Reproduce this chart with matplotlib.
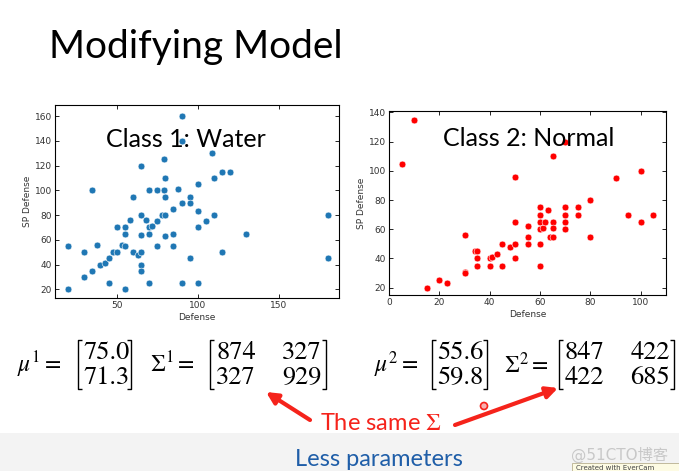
import matplotlib
matplotlib.use("Agg")
import matplotlib.pyplot as plt
from matplotlib.patches import Rectangle, Circle

plt.rcParams['mathtext.fontset'] = 'stix'

# Class 1: Water (Defense, SP Defense)
water_def = [20, 20, 30, 30, 35, 35, 38, 40, 43, 45, 45, 48, 50, 50, 53, 55, 55, 55, 55, 58,
             60, 60, 63, 65, 65, 65, 65, 65, 65, 68, 70, 70, 70, 70, 72, 75, 75, 75, 78, 79,
             79, 80, 80, 80, 80, 85, 85, 85, 88, 90, 90, 90, 90, 95, 95, 95, 100, 100, 100, 100,
             105, 109, 110, 110, 115, 115, 120, 130, 180, 180]
water_spdef = [55, 20, 50, 30, 100, 35, 56, 40, 41, 45, 25, 50, 50, 70, 56, 55, 65, 70, 20, 76,
               95, 50, 48, 50, 64, 80, 120, 40, 35, 76, 100, 70, 65, 25, 71, 75, 100, 55, 80, 125,
               100, 80, 110, 95, 63, 85, 65, 55, 101, 160, 140, 90, 25, 95, 90, 45, 105, 83, 70, 25,
               75, 130, 110, 80, 115, 50, 115, 65, 80, 45]

# Class 2: Normal
normal_def = [5, 10, 15, 20, 23, 30, 30, 30, 34, 35, 35, 35, 40, 41, 40, 43, 45, 45, 48, 50,
              50, 50, 50, 55, 55, 55, 60, 60, 60, 60, 60, 60, 61, 62, 63, 64, 65, 65, 65, 65,
              70, 70, 70, 70, 70, 75, 75, 80, 80, 90, 95, 100, 100, 105]
normal_spdef = [105, 135, 20, 25, 23, 56, 31, 30, 45, 45, 40, 35, 40, 41, 35, 43, 50, 35, 48, 96,
                65, 50, 40, 62, 55, 50, 75, 70, 65, 60, 50, 35, 61, 65, 73, 55, 110, 65, 61, 55,
                120, 75, 70, 65, 60, 75, 70, 80, 55, 95, 70, 100, 65, 70]

mu1 = ["75.0", "71.3"]
sigma1 = [["874", "327"], ["327", "929"]]
mu2 = ["55.6", "59.8"]
sigma2 = [["847", "422"], ["422", "685"]]

W, H = 679, 471
fig = plt.figure(figsize=(W / 100, H / 100), dpi=100)
fig.patch.set_facecolor('white')

# overlay in pixel coordinates for slide texts
ov = fig.add_axes([0, 0, 1, 1])
ov.set_xlim(0, W)
ov.set_ylim(H, 0)
ov.axis('off')

ov.add_patch(Rectangle((0, 433), W, H - 433, color='#f3f3f3', lw=0))
ov.text(49, 47, "Modifying Model", fontsize=28, family='Lato', va='center', ha='left')


def scatter_panel(rect, x, y, color, title, tx, ty, xticks, yticks, xlim, ylim):
    ax = fig.add_axes(rect)
    ax.scatter(x, y, s=24, c=color, edgecolors='white', linewidths=0.4, zorder=3)
    ax.set_xticks(xticks)
    ax.set_yticks(yticks)
    ax.set_xlim(*xlim)
    ax.set_ylim(*ylim)
    ax.tick_params(direction='in', top=True, right=True, labelsize=6.5,
                   labelcolor='#333333', length=3, width=0.6, pad=2)
    for s in ax.spines.values():
        s.set_linewidth(0.8)
    ax.set_xlabel("Defense", fontsize=6.5, color='#333333', labelpad=2)
    ax.set_ylabel("SP Defense", fontsize=6.5, color='#333333', labelpad=2)
    ax.text(tx, ty, title, transform=ax.transAxes, fontsize=18, family='Lato',
            ha='center', va='center', zorder=4)
    return ax


scatter_panel([55 / W, 1 - 298 / H, 284 / W, 193 / H], water_def, water_spdef, '#1f77b4',
              "Class 1: Water", 0.46, 0.82, [50, 100, 150], range(20, 161, 20), (12, 187), (13, 169))
scatter_panel([389 / W, 1 - 295 / H, 277 / W, 184 / H], normal_def, normal_spdef, '#ff0000',
              "Class 2: Normal", 0.505, 0.853, range(0, 101, 20), range(20, 141, 20), (0, 110), (15, 141))


def bracket(x0, x1, ytop=340, ybot=389):
    kw = dict(color='black', lw=1.0, solid_capstyle='butt')
    ov.plot([x0 + 4, x0, x0, x0 + 4], [ytop, ytop, ybot, ybot], **kw)
    ov.plot([x1 - 4, x1, x1, x1 - 4], [ytop, ytop, ybot, ybot], **kw)


def vector(label, x, left, right, vals):
    ov.text(x, 365, label, fontsize=17, ha='left', va='center')
    bracket(left, right)
    for i, v in enumerate(vals):
        ov.text(left + 5, 353 + 25 * i, v, fontsize=19, family='STIXGeneral', ha='left', va='center')


def matrix(label, x, left, right, vals):
    ov.text(x, 365, label, fontsize=17, ha='left', va='center')
    bracket(left, right)
    for i, row in enumerate(vals):
        ov.text(left + 6, 353 + 25 * i, row[0], fontsize=19, family='STIXGeneral', ha='left', va='center')
        ov.text(right - 4, 353 + 25 * i, row[1], fontsize=19, family='STIXGeneral', ha='right', va='center')


vector(r'$\mu^1 =$', 17, 78, 131, mu1)
matrix(r'$\Sigma^1 =$', 150, 210, 326, sigma1)
vector(r'$\mu^2 =$', 374, 432, 487, mu2)
matrix(r'$\Sigma^2 =$', 504, 559, 674, sigma2)

red = '#f5231b'
arrow = dict(arrowstyle='-|>', color=red, lw=3, mutation_scale=17, shrinkA=0, shrinkB=0)
ov.annotate('', xy=(266, 392), xytext=(310, 420), arrowprops=arrow)
ov.annotate('', xy=(558, 388), xytext=(455, 425), arrowprops=arrow)
ov.text(381, 423, r'The same $\Sigma$', fontsize=17, family='Lato', color=red, ha='center', va='center')
ov.add_patch(Circle((484, 406), 3.5, facecolor='#f7b0b0', edgecolor=red, lw=1.2))

ov.text(379, 459, "Less parameters", fontsize=17, family='Lato', color='#1f5ea8', ha='center', va='center')
ov.text(620, 455, "@51CTO博客", fontsize=11, color='#c8c8c8', ha='center', va='center',
        family=['DejaVu Sans', 'Noto Sans CJK SC'])
ov.add_patch(Rectangle((572, 463), 107, 9, facecolor='#fdfbe3', edgecolor='#b8b090', lw=0.6))
ov.text(576, 468, "Created with EverCam", fontsize=5, color='#444444', ha='left', va='center')

fig.savefig("out.png", dpi=100)
